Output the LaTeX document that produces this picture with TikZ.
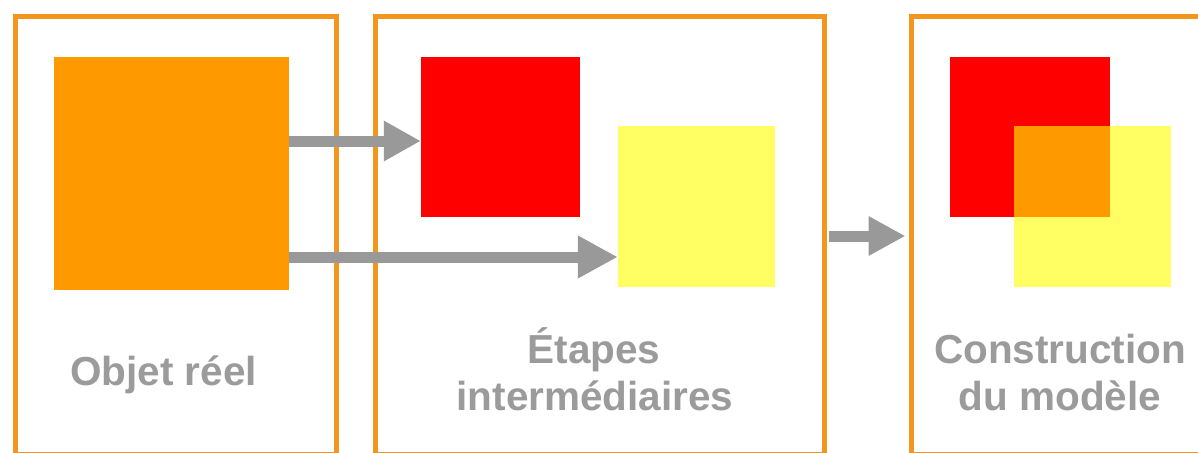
\documentclass[tikz,border=0pt]{standalone}
\usepackage{fontspec}
\setmainfont{Liberation Sans}
\usetikzlibrary{arrows.meta}
\definecolor{framec}{RGB}{242,150,30}
\definecolor{orangec}{RGB}{255,153,0}
\definecolor{redc}{RGB}{255,0,0}
\definecolor{yellowc}{RGB}{255,255,100}
\definecolor{arrowc}{RGB}{153,153,153}
\definecolor{textc}{RGB}{155,155,155}
\tikzset{
  framebox/.style={draw=framec, line width=5pt, inner sep=0pt, minimum width=#1, minimum height=437pt},
  sq/.style={inner sep=0pt, draw=none},
  bigarrow/.style={draw=arrowc, line width=11pt, -{Triangle[length=37pt,width=38pt]}},
  lbl/.style={text=textc, font=\bfseries\fontsize{40.5}{47}\selectfont, anchor=base, inner sep=0pt}
}
\begin{document}
\begin{tikzpicture}[x=1pt,y=-1pt]
\useasboundingbox (0,0) rectangle (1198,452);
\clip (0,0) rectangle (1198,452);
\fill[white] (0,0) rectangle (1198,452);
% frames
\node[framebox=321pt] (f1) at (175.5,235.5) {};
\node[framebox=449pt] (f2) at (599.5,235.5) {};
\node[framebox=299pt] (f3) at (1060.5,235.5) {};
% squares
\node[sq, fill=orangec, minimum width=235pt, minimum height=233pt] (obj) at (171.5,173.5) {};
\node[sq, fill=redc, minimum width=159pt, minimum height=160pt] (red2) at (500.5,137) {};
\node[sq, fill=yellowc, minimum width=157pt, minimum height=161pt] (yel2) at (696.5,206.5) {};
\node[sq, fill=redc, minimum width=160pt, minimum height=160pt] (red3) at (1030,137) {};
\node[sq, fill=yellowc, minimum width=157pt, minimum height=161pt] (yel3) at (1092.5,206.5) {};
\fill[orangec] (yel3.north west) rectangle (red3.south east);
% arrows
\coordinate (a1) at (0,141);
\coordinate (a2) at (0,257);
\coordinate (a3) at (0,236);
\draw[bigarrow] (obj.east |- a1) -- (red2.west |- a1);
\draw[bigarrow, -{Triangle[length=40pt,width=40pt]}] (obj.east |- a2) -- (yel2.west |- a2);
\draw[bigarrow, -{Triangle[length=37pt,width=37pt]}] ([xshift=2pt]f2.east |- a3) -- ([xshift=-3pt]f3.west |- a3);
% labels
\node[lbl] (t1) at (163.5,385) {Objet réel};
\node[lbl] (t2a) at (594,363) {Étapes};
\node[lbl] (t2b) at (595,410) {intermédiaires};
\node[lbl] (t3a) at (1060,363) {Construction};
\node[lbl] (t3b) at (1060,410) {du modèle};
\end{tikzpicture}
\end{document}
